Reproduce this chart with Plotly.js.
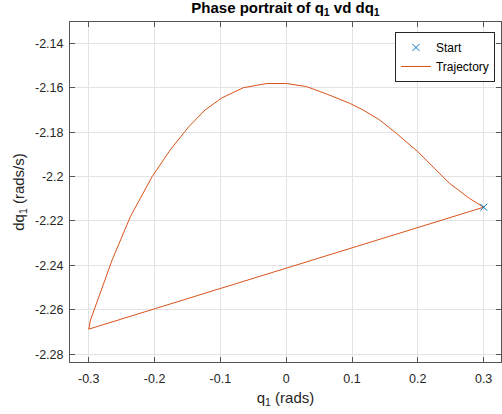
<!DOCTYPE html>
<html>
<head>
<meta charset="utf-8">
<script src="https://cdn.plot.ly/plotly-3.0.1.min.js"></script>
<style>html,body{margin:0;padding:0;background:#fff;}#chart{width:502px;height:414px;}</style>
</head>
<body>
<div id="chart"></div>
<script>
// Trajectory q1 (rads) and dq1 (rads/s)
const trajQ = [0.3, 0.2783, 0.2480, 0.2279, 0.2000, 0.1673, 0.1420, 0.1167, 0.0965, 0.0612, 0.0309, 0.0006,
  -0.0297, -0.0652, -0.0979, -0.1232, -0.1485, -0.1762, -0.2039, -0.2368, -0.2645, -0.2974, -0.3, 0.3];
const trajDQ = [-2.2138, -2.2098, -2.2030, -2.1970, -2.1888, -2.1805, -2.1745, -2.1700, -2.1670, -2.1628, -2.1595, -2.1581,
  -2.1581, -2.1600, -2.1646, -2.1700, -2.1777, -2.1880, -2.2001, -2.2181, -2.2376, -2.2646, -2.2687, -2.2138];
const startQ = [0.3];
const startDQ = [-2.2138];

const xTickVals = [-0.3, -0.2, -0.1, 0, 0.1, 0.2, 0.3];
const xTickText = ["-0.3", "-0.2", "-0.1", "0", "0.1", "0.2", "0.3"];
const yTickVals = [-2.28, -2.26, -2.24, -2.22, -2.2, -2.18, -2.16, -2.14];
const yTickText = ["-2.28", "-2.26", "-2.24", "-2.22", "-2.2", "-2.18", "-2.16", "-2.14"];

const axisColor = '#262626';
const gridColor = '#e3e3e3';
const fontFam = 'Liberation Sans, Arial, sans-serif';

const traces = [
  {x: trajQ, y: trajDQ, mode: 'lines', name: 'Trajectory', legendrank: 2,
   line: {color: '#D95319', width: 1}},
  {x: startQ, y: startDQ, mode: 'markers', name: 'Start', legendrank: 1,
   marker: {symbol: 'x-thin', size: 7, color: '#0072BD', line: {color: '#0072BD', width: 1}}}
];

const axisCommon = {
  showline: true, linecolor: '#555555', linewidth: 1, mirror: 'ticks',
  ticks: 'inside', ticklen: 5, tickcolor: '#555555', tickwidth: 1,
  showgrid: true, gridcolor: gridColor, gridwidth: 1, zeroline: false,
  tickfont: {family: fontFam, size: 12.5, color: axisColor}
};

const layout = {
  width: 502, height: 414,
  margin: {l: 70, r: 1, t: 22, b: 52, pad: 0},
  paper_bgcolor: '#ffffff', plot_bgcolor: '#ffffff',
  font: {family: fontFam, size: 12, color: axisColor},
  title: {text: '<b>Phase portrait of q<sub>1</sub> vd dq<sub>1</sub></b>',
    font: {family: fontFam, size: 15, color: '#000000'},
    x: 0.5, xref: 'paper', y: 1 - 8/414, yref: 'container', yanchor: 'middle'},
  xaxis: Object.assign({}, axisCommon, {
    range: [-0.3285, 0.3264], tickvals: xTickVals, ticktext: xTickText, ticklabelstandoff: 5,
    title: {text: 'q<sub>1</sub> (rads)', font: {family: fontFam, size: 15, color: axisColor}, standoff: 7}
  }),
  yaxis: Object.assign({}, axisCommon, {
    range: [-2.2835, -2.1304], tickvals: yTickVals, ticktext: yTickText, ticklabelstandoff: 3,
    title: {text: 'dq<sub>1</sub> (rads/s)', font: {family: fontFam, size: 15, color: axisColor}, standoff: 6}
  }),
  showlegend: true,
  legend: {x: 0.986, xanchor: 'right', y: 0.9706, yanchor: 'top',
    bgcolor: '#ffffff', bordercolor: '#262626', borderwidth: 1,
    font: {family: fontFam, size: 12, color: '#000000'}, tracegroupgap: 0}
};

Plotly.newPlot('chart', traces, layout, {staticPlot: true, displayModeBar: false});
</script>
</body>
</html>
